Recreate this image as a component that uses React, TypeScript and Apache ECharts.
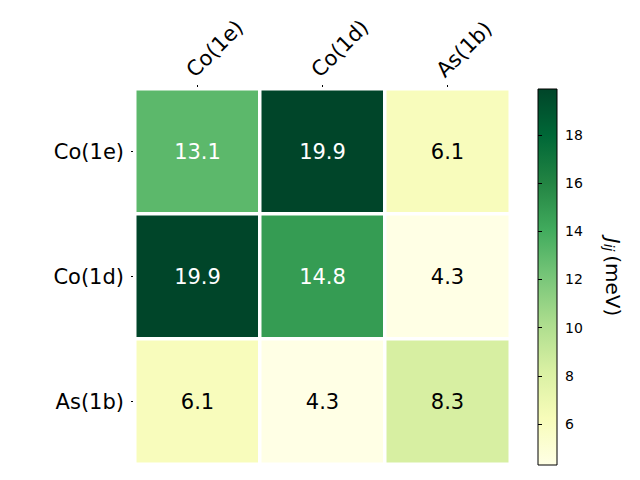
import React, { useEffect, useRef } from "react";
import * as echarts from "echarts";

const xCategories = ["Co(1e)", "Co(1d)", "As(1b)"];
const yCategories = ["Co(1e)", "Co(1d)", "As(1b)"];
const rowCo1e = [13.1, 19.9, 6.1];
const rowCo1d = [19.9, 14.8, 4.3];
const rowAs1b = [6.1, 4.3, 8.3];
const rows = [rowCo1e, rowCo1d, rowAs1b];
const colorbarTicks = [6, 8, 10, 12, 14, 16, 18];
const vMin = 4.3;
const vMax = 19.9;

const YLGN = ["#ffffe5", "#f7fcb9", "#d9f0a3", "#addd8e", "#78c679", "#41ab5d", "#238443", "#006837", "#004529"];
const FONT = "DejaVu Sans";

export default function App() {
  const ref = useRef<HTMLDivElement>(null);
  useEffect(() => {
    if (!ref.current) return;
    const chart = echarts.init(ref.current, undefined, { renderer: "svg" });
    const data: any[] = [];
    rows.forEach((row, yi) => {
      row.forEach((v, xi) => {
        data.push({
          value: [xi, yi, v],
          label: { color: v > 12 ? "#ffffff" : "#000000" },
        });
      });
    });
    const stops = YLGN.map((c, i) => ({ offset: i / (YLGN.length - 1), color: c }));
    chart.setOption({
      animation: false,
      backgroundColor: "#ffffff",
      textStyle: { fontFamily: FONT },
      grid: [
        { left: 135, top: 89, width: 375, height: 375 },
        {
          left: 538,
          top: 89,
          width: 19,
          height: 376,
          show: true,
          borderColor: "#000000",
          borderWidth: 1,
          backgroundColor: new echarts.graphic.LinearGradient(0, 1, 0, 0, stops),
        },
      ],
      xAxis: [
        {
          type: "category",
          gridIndex: 0,
          position: "top",
          data: xCategories,
          axisLine: { show: false },
          axisTick: { show: true, alignWithLabel: true, length: 4, lineStyle: { color: "#000" } },
          axisLabel: { rotate: -45, fontSize: 21, color: "#000", fontFamily: FONT, margin: 8, verticalAlign: "bottom" },
          splitLine: { show: false },
        },
        {
          type: "value",
          gridIndex: 1,
          show: false,
        },
      ],
      yAxis: [
        {
          type: "category",
          gridIndex: 0,
          inverse: true,
          data: yCategories,
          axisLine: { show: false },
          axisTick: { show: true, alignWithLabel: true, length: 4, lineStyle: { color: "#000" } },
          axisLabel: { fontSize: 21, color: "#000", fontFamily: FONT, margin: 11 },
          splitLine: { show: false },
        },
        {
          type: "value",
          gridIndex: 1,
          position: "right",
          min: vMin,
          max: vMax,
          axisLine: { show: false },
          axisTick: { show: true, length: 4, customValues: colorbarTicks, lineStyle: { color: "#000" } },
          axisLabel: { show: true, customValues: colorbarTicks, fontSize: 14, color: "#000", fontFamily: FONT, margin: 8 },
          splitLine: { show: false },
          name: "{j|J}{s|ij} {n|(meV)}",
          nameLocation: "middle",
          nameRotate: -90,
          nameGap: 45,
          nameTextStyle: {
            rich: {
              j: { fontSize: 20, fontStyle: "italic", fontFamily: FONT, color: "#000" },
              s: { fontSize: 14, fontStyle: "italic", fontFamily: FONT, color: "#000", padding: [8, 0, 0, 0] },
              n: { fontSize: 20, fontFamily: FONT, color: "#000" },
            },
          },
        },
      ],
      visualMap: {
        show: false,
        min: vMin,
        max: vMax,
        dimension: 2,
        seriesIndex: 0,
        inRange: { color: YLGN },
      },
      series: [
        {
          type: "heatmap",
          xAxisIndex: 0,
          yAxisIndex: 0,
          data,
          itemStyle: { borderColor: "#ffffff", borderWidth: 3.5 },
          label: {
            show: true,
            fontSize: 21,
            fontFamily: FONT,
            formatter: (p: any) => p.value[2].toFixed(1),
          },
          emphasis: { disabled: true },
        },
      ],
    });
    return () => chart.dispose();
  }, []);
  return <div ref={ref} style={{ width: 640, height: 480, position: "absolute", left: 0, top: 0 }} />;
}
